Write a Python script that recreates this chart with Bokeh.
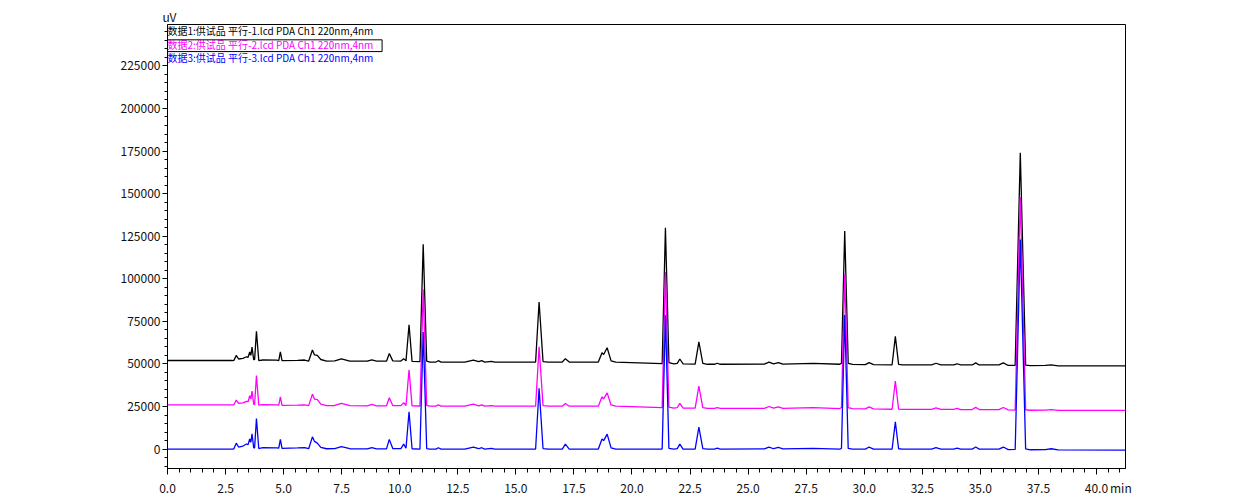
from bokeh.plotting import figure
from bokeh.models import (Range1d, SingleIntervalTicker, FixedTicker, NumeralTickFormatter,
                          Label, BoxAnnotation, LinearAxis, Title, CustomLabelingPolicy)
from bokeh.embed import file_html
from bokeh.resources import INLINE

# Retention time (min) of the polyline vertices
RT_MIN = [0.00, 2.80, 2.86, 2.96, 3.06, 3.25, 3.40, 3.47, 3.54, 3.59,
          3.64, 3.71, 3.75, 3.83, 3.93, 4.10, 4.70, 4.79, 4.86, 4.93,
          5.60, 5.90, 6.08, 6.24, 6.33, 6.45, 6.60, 6.85, 7.20, 7.49,
          7.85, 8.60, 8.80, 9.00, 9.43, 9.55, 9.70, 10.05, 10.17, 10.27,
          10.40, 10.53, 10.87, 11.01, 11.16, 11.30, 11.56, 11.66, 11.78, 12.80,
          13.17, 13.40, 13.53, 13.66, 13.95, 14.10, 15.85, 16.00, 16.17, 16.40,
          17.00, 17.13, 17.30, 18.55, 18.71, 18.78, 18.93, 19.10, 19.30, 21.30,
          21.44, 21.59, 21.80, 21.95, 22.06, 22.20, 22.72, 22.88, 23.05, 23.25,
          23.55, 23.67, 23.80, 25.70, 25.90, 26.10, 26.30, 26.50, 27.80, 28.95,
          29.02, 29.16, 29.31, 29.50, 30.05, 30.21, 30.40, 31.20, 31.34, 31.48,
          31.65, 32.90, 33.09, 33.30, 33.85, 34.00, 34.15, 34.65, 34.80, 34.95,
          35.80, 35.99, 36.20, 36.50, 36.72, 36.95, 37.15, 37.80, 38.05, 38.35,
          41.25]

# Signal (uV) of 数据1 (black)
SERIES_1 = [52000, 52000, 52100, 55000, 52900, 53300, 54200, 53900, 57000, 55000,
            59900, 52500, 52500, 69100, 52000, 52300, 52200, 52000, 57100, 51900,
            52100, 52300, 51700, 58200, 55300, 55000, 52600, 51700, 51800, 53000,
            51700, 51600, 52400, 51600, 51600, 56100, 51800, 51700, 53100, 51800,
            73000, 51500, 51300, 120300, 51600, 51100, 51100, 51900, 51100, 51100,
            52300, 51300, 51900, 51100, 51500, 51100, 51100, 86400, 51400, 51100,
            51100, 53100, 51100, 51100, 56600, 55500, 59500, 51800, 51100, 50200,
            130000, 50800, 50000, 50300, 52900, 50000, 49900, 63000, 50300, 49800,
            49800, 50400, 49800, 49900, 51000, 50000, 50800, 49900, 50300, 49800,
            50400, 128100, 50300, 49700, 49600, 50800, 49600, 49500, 66200, 49700,
            49500, 49500, 50400, 49500, 49500, 50100, 49400, 49400, 50600, 49400,
            49400, 50600, 49100, 49200, 174000, 49300, 49000, 49200, 49500, 48900,
            48800]

# Signal (uV) of 数据2 (magenta)
SERIES_2 = [25900, 25900, 26000, 28800, 26800, 27100, 28000, 27800, 31400, 29500,
            34100, 26300, 26300, 43200, 25800, 26100, 26000, 25800, 30700, 25700,
            25800, 26000, 25500, 32300, 29300, 29100, 26400, 25500, 25600, 26800,
            25500, 25400, 26200, 25400, 25400, 30100, 25600, 25500, 27300, 25600,
            46600, 25400, 25300, 93800, 25600, 25200, 25200, 26000, 25200, 25200,
            26400, 25400, 26000, 25200, 25500, 25200, 25200, 60100, 25500, 25200,
            25200, 26800, 25200, 25200, 30700, 29500, 33000, 25900, 25200, 24300,
            104000, 24700, 24100, 24400, 26800, 24000, 24000, 37000, 24300, 23900,
            23900, 24400, 23900, 23900, 25000, 24000, 24800, 23900, 24300, 23800,
            24400, 102600, 24300, 23700, 23600, 24800, 23600, 23400, 40000, 23500,
            23300, 23300, 24200, 23300, 23300, 23900, 23200, 23200, 24500, 23200,
            23200, 24400, 23000, 22900, 148000, 23100, 22800, 22900, 23200, 22700,
            22700]

# Signal (uV) of 数据3 (blue)
SERIES_3 = [0, 0, 200, 3500, 1200, 1800, 3000, 2600, 5900, 4000,
            9000, 800, 600, 18000, 300, 800, 700, 500, 5700, 400,
            700, 900, 200, 7200, 4500, 3500, 1000, 200, 300, 1500,
            200, 100, 900, 100, 100, 5700, 300, 300, 2900, 500,
            21900, 200, 0, 68700, 300, 0, 0, 800, 0, 0,
            1200, 200, 800, 0, 400, 0, 0, 35700, 300, 0,
            0, 2900, 0, 0, 5900, 5000, 8800, 700, 0, 0,
            78600, 400, 0, 300, 2900, 0, 0, 12900, 300, 0,
            0, 500, 0, 100, 1200, 200, 1000, 100, 400, 0,
            500, 78700, 400, 0, 0, 1200, 0, 0, 16000, 200,
            0, 0, 900, 0, 0, 600, 0, 0, 1200, 0,
            0, 1200, -300, -200, 123000, 100, -400, -300, 200, -500,
            -600]

LEGEND_TEXTS = ["数据1:供试品 平行-1.lcd PDA Ch1 220nm,4nm",
                "数据2:供试品 平行-2.lcd PDA Ch1 220nm,4nm",
                "数据3:供试品 平行-3.lcd PDA Ch1 220nm,4nm"]
COLORS = ["#000000", "#ff00ff", "#0000ff"]
X_LABEL_TICKS = [0.0, 2.5, 5.0, 7.5, 10.0, 12.5, 15.0, 17.5, 20.0, 22.5,
                 25.0, 27.5, 30.0, 32.5, 35.0, 37.5, 40.0]
X_UNIT = "min"
X_UNIT_POS = 41.05
Y_UNIT = "uV"

assert len(RT_MIN) == len(SERIES_1) == len(SERIES_2) == len(SERIES_3)

FONT = "'Noto Sans CJK SC', sans-serif"
FS = "12px"
LEG_FS = "10px"

p = figure(frame_width=958, frame_height=444,
           x_range=Range1d(0, 41.25), y_range=Range1d(-11400, 249300),
           output_backend="svg", toolbar_location=None,
           min_border_left=167, min_border_top=24, min_border_right=12,
           min_border_bottom=10, background_fill_color="white",
           border_fill_color="white")

p.grid.visible = False
p.outline_line_color = "black"
p.outline_line_width = 1

# main x axis: ticks only (labels suppressed by policy)
p.xaxis.ticker = SingleIntervalTicker(interval=2.5, num_minor_ticks=5)
p.xaxis.major_label_policy = CustomLabelingPolicy(code="return []")
p.xaxis.major_label_text_font_size = "1px"
p.xaxis.major_label_standoff = 0
p.xaxis.major_tick_out = 6
p.xaxis.minor_tick_out = 4
p.xaxis.major_tick_in = 0
p.xaxis.minor_tick_in = 0
p.xaxis.axis_line_color = "black"

# label axis below (tick labels + unit)
lab_ax = LinearAxis(ticker=FixedTicker(ticks=X_LABEL_TICKS + [X_UNIT_POS]),
                    formatter=NumeralTickFormatter(format="0.0"),
                    major_label_overrides={X_UNIT_POS: X_UNIT},
                    axis_line_color=None, major_tick_line_color=None,
                    minor_tick_line_color=None, major_tick_out=0, minor_tick_out=0,
                    major_tick_in=0, minor_tick_in=0,
                    major_label_standoff=0,
                    major_label_text_font=FONT, major_label_text_font_size=FS,
                    major_label_text_color="#111111")
p.add_layout(lab_ax, "below")

p.yaxis.ticker = SingleIntervalTicker(interval=25000, num_minor_ticks=5)
p.yaxis.formatter = NumeralTickFormatter(format="0")
p.yaxis.axis_line_color = "black"
p.yaxis.major_tick_line_color = "black"
p.yaxis.minor_tick_line_color = "black"
p.yaxis.major_tick_in = 0
p.yaxis.minor_tick_in = 0
p.yaxis.major_tick_out = 5
p.yaxis.minor_tick_out = 3
p.yaxis.major_label_standoff = 2
p.yaxis.major_label_text_font = FONT
p.yaxis.major_label_text_font_size = FS
p.yaxis.major_label_text_color = "#111111"

p.add_layout(Title(text=Y_UNIT, align="left", offset=-5, standoff=0,
                   text_font=FONT, text_font_size=FS, text_font_style="normal",
                   text_color="#111111"), "above")

for ys, c in zip([SERIES_1, SERIES_2, SERIES_3], COLORS):
    p.line(RT_MIN, ys, line_color=c, line_width=1.3)

for i, (txt, c) in enumerate(zip(LEGEND_TEXTS, COLORS)):
    p.add_layout(Label(x=0, y=438 - i * 13.5, x_units="screen", y_units="screen",
                       text=txt, text_color=c, text_font=FONT,
                       text_font_size=LEG_FS, text_baseline="middle",
                       text_align="left"))

# selection box around the second legend line (data units)
p.add_layout(BoxAnnotation(left=-0.05, right=9.24, bottom=233400, top=240300,
                           fill_alpha=0, line_color="black", line_width=1,
                           line_alpha=1))

open("out.html", "w").write(file_html(p, INLINE))
